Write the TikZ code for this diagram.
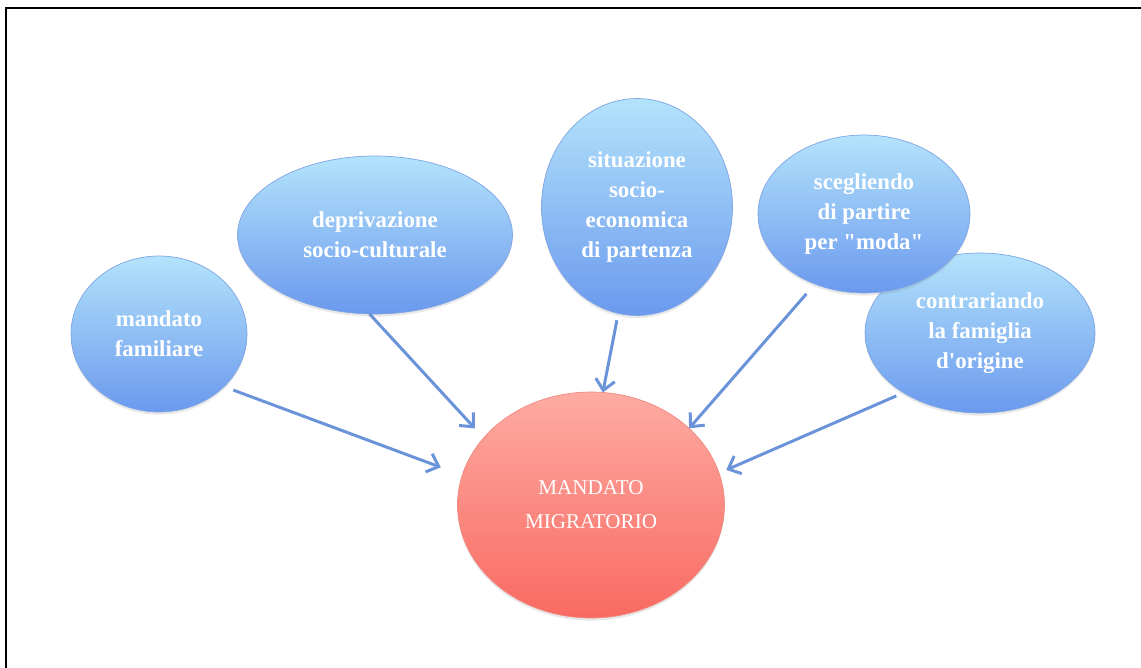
\documentclass[tikz,border=0pt]{standalone}
\usepackage{fontspec}
\setmainfont{Liberation Serif}
\usepackage{tikz}
\usetikzlibrary{arrows.meta,shapes,shadows,positioning}

\definecolor{bubbletop}{HTML}{B3E3FB}
\definecolor{bubblebot}{HTML}{6B99EE}
\definecolor{bubbleedge}{HTML}{7EA5E4}
\definecolor{goaltop}{HTML}{FDABA3}
\definecolor{goalbot}{HTML}{F96A61}
\definecolor{goaledge}{HTML}{F08A80}
\definecolor{arrowblue}{HTML}{6A93DA}

\begin{document}
\begin{tikzpicture}
          [x=0.02cm,y=-0.02cm,semithick]
          \tikzstyle{cause}=[ellipse,inner sep=0pt,outer sep=0pt,draw=bubbleedge,line width=0.4pt,
            top color=bubbletop,bottom color=bubblebot,text=white,align=center,
            font=\fontsize{13}{17}\selectfont\bfseries,
            drop shadow={opacity=0.18,shadow xshift=0pt,shadow yshift=-1.5pt}]
          \tikzstyle{goal}=[cause,draw=goaledge,top color=goaltop,bottom color=goalbot,
            font=\fontsize{12}{19.3}\selectfont]

          \useasboundingbox (0,0) rectangle (1141,668);
          \draw[line width=1.3pt] (6,668) -- (6,8) -- (1141,8);

          \node[goal] (mm) at (591,505) [minimum width=5.34cm,minimum height=4.52cm] {MANDATO\\MIGRATORIO};
          \node[cause] (fam) at (159,334) [minimum width=3.52cm,minimum height=3.12cm] {mandato\\familiare};
          \node[cause] (dep) at (375,235) [minimum width=5.5cm,minimum height=3.16cm] {deprivazione\\socio-culturale};
          \node[cause] (sit) at (637,207) [minimum width=3.82cm,minimum height=4.34cm] {situazione\\socio-\\economica\\di partenza};
          \node[cause] (con) at (980,333) [minimum width=4.6cm,minimum height=3.2cm] {contrariando\\la famiglia\\d\textquotesingle origine};
          \node[cause] (sce) at (864,214) [minimum width=4.24cm,minimum height=3.16cm] {scegliendo\\di partire\\per \textquotedbl moda\textquotedbl};

          \path[->,arrowblue,line width=1.7pt,>={Straight Barb[length=6pt,width=11pt]}]
          (fam.-39) edge[shorten <=5.7pt,shorten >=13pt] (mm.167)
          (dep.-94) edge[shorten >=7.4pt] (mm.148)
          (sit.-100) edge[shorten <=4pt] (mm.84)
          (sce.-125) edge[shorten <=7.4pt] (mm.38)
          (con.-142) edge[shorten <=4.5pt,shorten >=4.5pt] (mm.14)
          ;
        \end{tikzpicture}
\end{document}
